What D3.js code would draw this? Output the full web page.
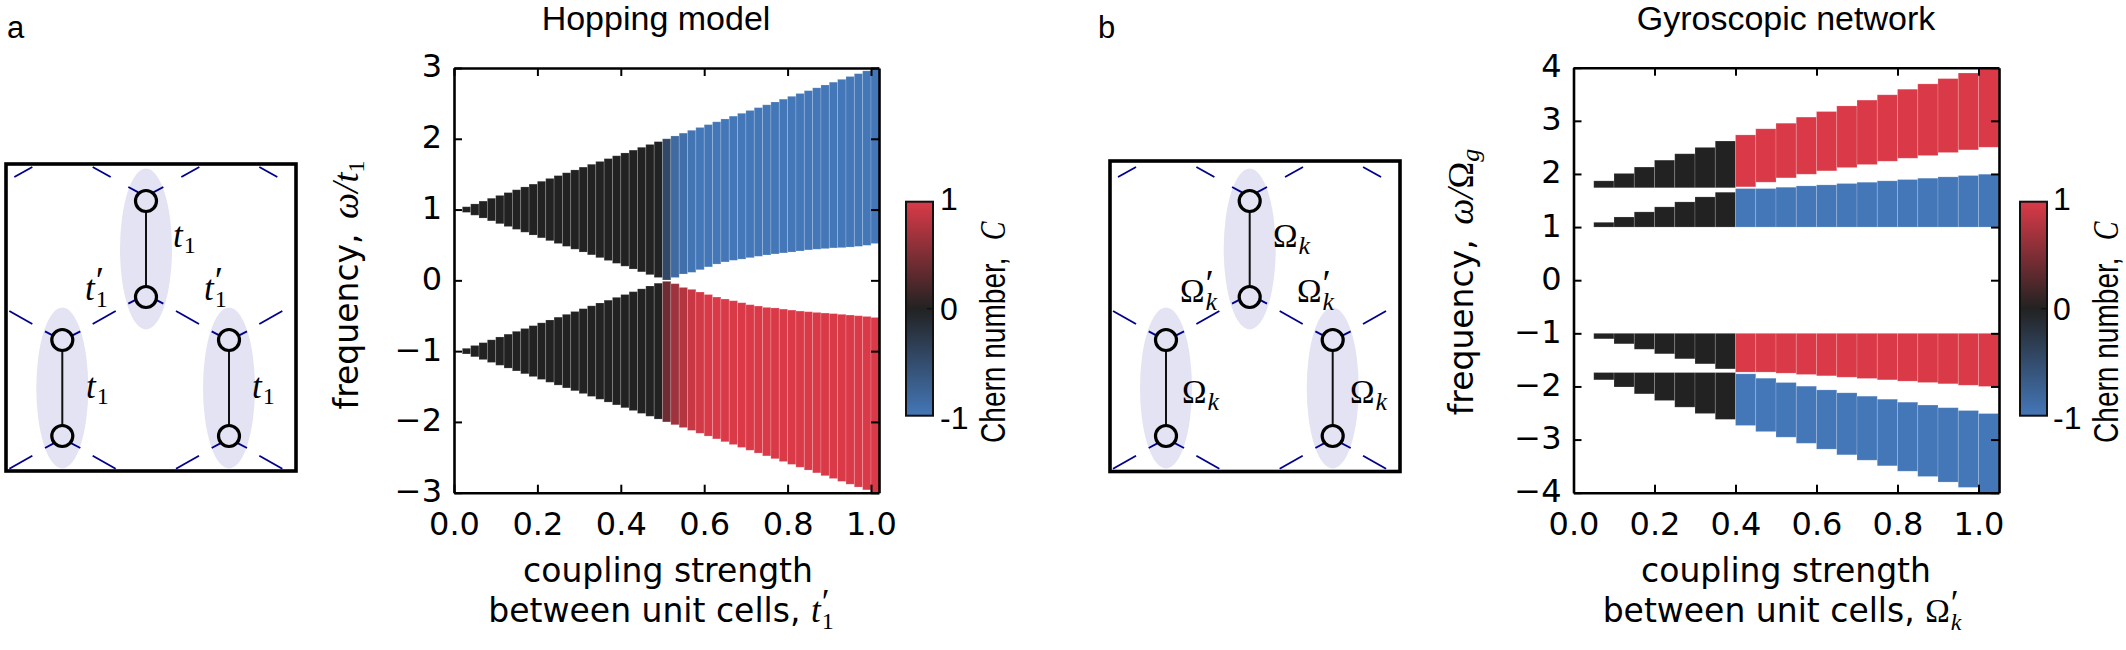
<!DOCTYPE html>
<html>
<head>
<meta charset="utf-8">
<script src="https://cdnjs.cloudflare.com/ajax/libs/d3/7.8.5/d3.min.js"></script>
<style>
html,body{margin:0;padding:0;background:#fff;}
svg{display:block;}
</style>
</head>
<body>
<svg id="chart" width="2126" height="650"></svg>
<script>
// ---------- Hopping model data ----------
const hopCoupling = [0.02,0.04,0.06,0.08,0.10,0.12,0.14,0.16,0.18,0.20,0.22,0.24,0.26,0.28,0.30,0.32,0.34,0.36,0.38,0.40,0.42,0.44,0.46,0.48,0.50,0.52,0.54,0.56,0.58,0.60,0.62,0.64,0.66,0.68,0.70,0.72,0.74,0.76,0.78,0.80,0.82,0.84,0.86,0.88,0.90,0.92,0.94,0.96,0.98,1.00];
const hopUpperTop = [1.04,1.08,1.12,1.16,1.20,1.24,1.28,1.32,1.36,1.40,1.44,1.48,1.52,1.56,1.60,1.64,1.68,1.72,1.76,1.80,1.84,1.88,1.92,1.96,2.00,2.04,2.08,2.12,2.16,2.20,2.24,2.28,2.32,2.36,2.40,2.44,2.48,2.52,2.56,2.60,2.64,2.68,2.72,2.76,2.80,2.84,2.88,2.92,2.96,3.00];
const hopUpperBottom = [0.96,0.92,0.88,0.84,0.80,0.76,0.72,0.68,0.64,0.60,0.56,0.52,0.48,0.44,0.40,0.36,0.32,0.28,0.24,0.20,0.16,0.12,0.08,0.04,0.005,0.04,0.09,0.113,0.15,0.19,0.23,0.26,0.283,0.30,0.32,0.34,0.358,0.373,0.387,0.40,0.415,0.43,0.44,0.448,0.458,0.462,0.47,0.48,0.495,0.52];
const hopLowerTop = [-0.96,-0.92,-0.88,-0.84,-0.80,-0.76,-0.72,-0.68,-0.64,-0.60,-0.56,-0.52,-0.48,-0.44,-0.40,-0.36,-0.32,-0.28,-0.24,-0.20,-0.16,-0.12,-0.08,-0.04,-0.014,-0.047,-0.10,-0.127,-0.165,-0.20,-0.236,-0.264,-0.288,-0.316,-0.344,-0.363,-0.382,-0.39,-0.406,-0.42,-0.434,-0.443,-0.453,-0.462,-0.47,-0.48,-0.49,-0.50,-0.51,-0.524];
const hopLowerBottom = [-1.04,-1.08,-1.12,-1.16,-1.20,-1.24,-1.28,-1.32,-1.36,-1.40,-1.44,-1.48,-1.52,-1.56,-1.60,-1.64,-1.68,-1.72,-1.76,-1.80,-1.84,-1.88,-1.92,-1.96,-2.00,-2.04,-2.08,-2.12,-2.16,-2.20,-2.24,-2.28,-2.32,-2.36,-2.40,-2.44,-2.48,-2.52,-2.56,-2.60,-2.64,-2.68,-2.72,-2.76,-2.80,-2.84,-2.88,-2.92,-2.96,-3.00];
const hopUpperChern = [0,0,0,0,0,0,0,0,0,0,0,0,0,0,0,0,0,0,0,0,0,0,0,0,-0.45,-0.85,-0.9,-0.97,-1,-1,-1,-1,-1,-1,-1,-1,-1,-1,-1,-1,-1,-1,-1,-1,-1,-1,-1,-1,-1,-1];
const hopLowerChern = [0,0,0,0,0,0,0,0,0,0,0,0,0,0,0,0,0,0,0,0,0,0,0,0,0.42,0.68,0.78,0.9,0.95,1,1,1,1,1,1,1,1,1,1,1,1,1,1,1,1,1,1,1,1,1];

// ---------- Gyroscopic network data ----------
const gyroCoupling = [0.05,0.10,0.15,0.20,0.25,0.30,0.35,0.40,0.45,0.50,0.55,0.60,0.65,0.70,0.75,0.80,0.85,0.90,0.95,1.00];
const gyroBand4Top = [1.87,2.01,2.13,2.26,2.38,2.50,2.62,2.735,2.85,2.955,3.07,3.175,3.28,3.39,3.49,3.595,3.695,3.795,3.90,4.00];
const gyroBand4Bottom = [1.74,1.74,1.74,1.74,1.74,1.74,1.74,1.757,1.845,1.926,1.995,2.058,2.12,2.177,2.24,2.296,2.346,2.403,2.453,2.503];
const gyroBand3Top = [1.09,1.19,1.286,1.38,1.474,1.568,1.656,1.725,1.725,1.75,1.775,1.794,1.82,1.844,1.87,1.895,1.92,1.945,1.97,1.995];
const gyroBand3Bottom = [1,1,1,1,1,1,1,1,1,1,1,1,1,1,1,1,1,1,1,1];
const gyroBand2Top = [-1,-1,-1,-1,-1,-1,-1,-1,-1,-1,-1,-1,-1,-1,-1,-1,-1,-1,-1,-1];
const gyroBand2Bottom = [-1.104,-1.198,-1.30,-1.386,-1.48,-1.575,-1.67,-1.73,-1.73,-1.75,-1.775,-1.80,-1.826,-1.85,-1.876,-1.90,-1.926,-1.95,-1.977,-2.00];
const gyroBand1Top = [-1.738,-1.738,-1.738,-1.738,-1.738,-1.738,-1.738,-1.763,-1.845,-1.926,-1.995,-2.065,-2.12,-2.183,-2.24,-2.296,-2.35,-2.40,-2.453,-2.51];
const gyroBand1Bottom = [-1.876,-2.01,-2.14,-2.265,-2.39,-2.51,-2.62,-2.735,-2.85,-2.955,-3.07,-3.18,-3.287,-3.388,-3.494,-3.595,-3.695,-3.80,-3.90,-4.00];
const gyroPositiveChern = [0,0,0,0,0,0,0,1,1,1,1,1,1,1,1,1,1,1,1,1];
const gyroNegativeChern = [0,0,0,0,0,0,0,-1,-1,-1,-1,-1,-1,-1,-1,-1,-1,-1,-1,-1];

// ---------- Tick labels ----------
const xTicks = [0,0.2,0.4,0.6,0.8,1.0];
const hopYTicks = [-3,-2,-1,0,1,2,3];
const gyroYTicks = [-4,-3,-2,-1,0,1,2,3,4];
const chernTicks = [-1,0,1];

// ---------- Diagram (lattice units) ----------
const cellCentres = [[146,249],[62.3,388],[229,388]];
const latticeLinks = [
 [43,141,97,111],[278,111,332,141],[544,141,598,111],[778,111,832,141],
 [385,171,415,187],[490,171,460,187],[385,521,415,505],[490,521,460,505],
 [28,543,97,582],[278,582,347,543],[528,543,597,582],[778,582,847,543],
 [135,604,165,620],[241,604,210,620],[135,954,165,938],[241,954,210,938],
 [635,604,665,620],[741,604,710,620],[635,954,665,938],[741,954,710,938],
 [28,1016,97,977],[278,977,347,1016],[528,1016,597,977],[778,977,847,1016]
];

const SANS = "'DejaVu Sans'";
const HELV = "'Liberation Sans'";
const SERIF = "'Liberation Serif'";
const svg = d3.select("#chart");
const chern = d3.scaleLinear().domain([-1,0,1]).range(["#4477b8","#222222","#da3a48"]);

// One text element with sequential runs; centred on the origin unless anchor is "start"
function runs(g, items, anchor){
  const t = g.append("text").attr("fill","#000").style("white-space","pre");
  let x = 0;
  items.forEach(it => {
    const s = t.append("tspan").attr("x", x + (it.dx||0)).attr("y", it.dy||0)
      .attr("font-family", it.font||SANS).attr("font-size", it.size||33)
      .attr("font-style", it.italic ? "italic" : "normal").text(it.text);
    const w = s.node().getComputedTextLength();
    if(!it.overlay) x += w + (it.dx||0);
  });
  if(anchor !== "start"){
    t.selectAll("tspan").attr("x", function(){ return +d3.select(this).attr("x") - x/2; });
  }
  return g;
}

function drawBars(g, x, y, xs, w, top, bottom, colors, xMax){
  g.selectAll(null).data(xs).enter().append("rect")
    .attr("x", d => x(d))
    .attr("width", d => x(Math.min(d + w, xMax)) - x(d))
    .attr("y", (d,i) => y(top[i]))
    .attr("height", (d,i) => y(bottom[i]) - y(top[i]))
    .attr("fill", (d,i) => chern(colors[i]))
    .attr("stroke", "#ffffff").attr("stroke-opacity", 0.22).attr("stroke-width", 0.8);
}

function frameAxes(g, x, y, yTicks, width, height){
  const style = a => {
    a.selectAll(".domain").attr("stroke","#000").attr("stroke-width",2.6);
    a.selectAll(".tick line").attr("stroke","#000").attr("stroke-width",2);
    a.selectAll("text").attr("font-family",SANS).attr("font-size",32).attr("fill","#000");
  };
  g.append("g").attr("transform",`translate(0,${height})`)
    .call(d3.axisBottom(x).tickValues(xTicks).tickFormat(d3.format(".1f")).tickSizeInner(-8).tickSizeOuter(0).tickPadding(20)).call(style);
  g.append("g")
    .call(d3.axisTop(x).tickValues(xTicks).tickFormat("").tickSizeInner(-8).tickSizeOuter(0)).call(style);
  g.append("g")
    .call(d3.axisLeft(y).tickValues(yTicks).tickFormat(d3.format("d")).tickSizeInner(-8).tickSizeOuter(0).tickPadding(12)).call(style)
    .selectAll("text").attr("dy","0.28em");
  g.append("g").attr("transform",`translate(${width},0)`)
    .call(d3.axisRight(y).tickValues(yTicks).tickFormat("").tickSizeInner(-8).tickSizeOuter(0)).call(style);
}

function colorbar(id, left, labelX, titleX){
  const top = 201.7, h = 214, w = 27;
  const grad = svg.append("defs").append("linearGradient").attr("id",id)
    .attr("x1",0).attr("x2",0).attr("y1",1).attr("y2",0);
  chernTicks.forEach(v => grad.append("stop").attr("offset",(v+1)/2).attr("stop-color",chern(v)));
  const sc = d3.scaleLinear().domain([-1,1]).range([top+h,top]);
  svg.append("rect").attr("x",left).attr("y",top).attr("width",w).attr("height",h)
    .attr("fill",`url(#${id})`).attr("stroke","#111").attr("stroke-width",2);
  svg.append("line").attr("x1",left+w-6).attr("x2",left+w).attr("y1",sc(0)).attr("y2",sc(0))
    .attr("stroke","#111").attr("stroke-width",1.5);
  svg.selectAll(null).data(chernTicks).enter().append("text")
    .attr("x",labelX).attr("y",d => sc(d)+ (d===1?8:d===0?11:13))
    .attr("font-family",HELV).attr("font-size",32).attr("fill","#000")
    .text(d => d===-1 ? "-1" : d);
  const t = svg.append("g").attr("transform",`translate(${titleX},443) rotate(-90) scale(0.78,1)`);
  runs(t,[{text:"Chern number,",font:HELV,size:36},{text:"C",font:SERIF,italic:true,size:36,dx:22}],"start");
}

function diagram(ox, frame){
  const g = svg.append("g");
  const dx = d3.scaleLinear().domain([0,960]).range([ox, ox+320]);
  const dy = d3.scaleLinear().domain([0,1080]).range([130,490]);
  const px = v => v + ox;
  g.selectAll(null).data(cellCentres).enter().append("ellipse")
    .attr("cx",d=>px(d[0])).attr("cy",d=>d[1]).attr("rx",26).attr("ry",80.5).attr("fill","#e3e3f3");
  g.selectAll(null).data(latticeLinks).enter().append("line")
    .attr("x1",d=>dx(d[0])).attr("y1",d=>dy(d[1])).attr("x2",d=>dx(d[2])).attr("y2",d=>dy(d[3]))
    .attr("stroke","#00008b").attr("stroke-width",1.8);
  const half = [[0,-48],[0,48]];
  cellCentres.forEach(c => {
    g.append("line").attr("x1",px(c[0])).attr("x2",px(c[0]))
      .attr("y1",c[1]-48).attr("y2",c[1]+48).attr("stroke","#111").attr("stroke-width",2);
    half.forEach(o => g.append("circle").attr("cx",px(c[0])).attr("cy",c[1]+o[1]).attr("r",10.5)
      .attr("fill","#e3e3f3").attr("stroke","#000").attr("stroke-width",3.2));
  });
  g.append("rect").attr("x",frame[0]).attr("y",frame[1]).attr("width",frame[2]-frame[0]).attr("height",frame[3]-frame[1])
    .attr("fill","none").attr("stroke","#000").attr("stroke-width",3.6);
}

function place(x,y){ return svg.append("g").attr("transform",`translate(${x},${y})`); }
const tLabel = (x,y) => runs(place(x,y),[{text:"t",font:SERIF,italic:true,size:35},{text:"1",font:SERIF,size:24,dy:6,dx:1}],"start");
const tpLabel = (x,y) => runs(place(x,y),[{text:"t",font:SERIF,italic:true,size:35},{text:"′",font:SERIF,size:38,dy:-7,dx:1,overlay:true},{text:"1",font:SERIF,size:24,dy:7,dx:1}],"start");
const oLabel = (x,y) => runs(place(x,y),[{text:"Ω",font:SERIF,size:33},{text:"k",font:SERIF,italic:true,size:26,dy:7,dx:1}],"start");
const opLabel = (x,y) => runs(place(x,y),[{text:"Ω",font:SERIF,size:33},{text:"′",font:SERIF,size:38,dy:-6,dx:1,overlay:true},{text:"k",font:SERIF,italic:true,size:26,dy:8,dx:1}],"start");

// ---------- Panel labels and titles ----------
svg.append("text").attr("x",7).attr("y",38).attr("font-family",HELV).attr("font-size",31).text("a");
svg.append("text").attr("x",1098).attr("y",38).attr("font-family",HELV).attr("font-size",31).text("b");
svg.append("text").attr("x",656).attr("y",30).attr("text-anchor","middle").attr("font-family",HELV).attr("font-size",34).text("Hopping model");
svg.append("text").attr("x",1786).attr("y",30).attr("text-anchor","middle").attr("font-family",HELV).attr("font-size",34).text("Gyroscopic network");

// ---------- Diagrams ----------
diagram(0,[6,164,296,471]);
diagram(1103.7,[1110,161,1400,471.5]);
tLabel(173,247); tpLabel(85,300); tpLabel(204,300); tLabel(86,398); tLabel(252,398);
oLabel(1273,247); opLabel(1180,302); opLabel(1297,302); oLabel(1182,403); oLabel(1350,403);

// ---------- Panel a ----------
{
  const W = 425, H = 424.7;
  const g = place(454,68);
  const x = d3.scaleLinear().domain([0,1.0192]).range([0,W]);
  const y = d3.scaleLinear().domain([-3,3]).range([H,0]);
  drawBars(g,x,y,hopCoupling,0.02,hopUpperTop,hopUpperBottom,hopUpperChern,1.0192);
  drawBars(g,x,y,hopCoupling,0.02,hopLowerTop,hopLowerBottom,hopLowerChern,1.0192);
  frameAxes(g,x,y,hopYTicks,W,H);
}
// ---------- Panel b ----------
{
  const W = 425.5, H = 425;
  const g = place(1573.5,67.7);
  const x = d3.scaleLinear().domain([0,1.0506]).range([0,W]);
  const y = d3.scaleLinear().domain([-4,4]).range([H,0]);
  drawBars(g,x,y,gyroCoupling,0.05,gyroBand4Top,gyroBand4Bottom,gyroPositiveChern,1.0506);
  drawBars(g,x,y,gyroCoupling,0.05,gyroBand3Top,gyroBand3Bottom,gyroNegativeChern,1.0506);
  drawBars(g,x,y,gyroCoupling,0.05,gyroBand2Top,gyroBand2Bottom,gyroPositiveChern,1.0506);
  drawBars(g,x,y,gyroCoupling,0.05,gyroBand1Top,gyroBand1Bottom,gyroNegativeChern,1.0506);
  frameAxes(g,x,y,gyroYTicks,W,H);
}

// ---------- Axis titles ----------
runs(place(668,582),[{text:"coupling strength"}]);
runs(place(661,622),[{text:"between unit cells, "},{text:"t",font:SERIF,italic:true,size:35},{text:"′",font:SERIF,size:36,dy:-8,dx:1,overlay:true},{text:"1",font:SERIF,size:24,dy:7,dx:1}]);
runs(place(1786,582),[{text:"coupling strength"}]);
runs(place(1782,622),[{text:"between unit cells, "},{text:"Ω",font:SERIF,size:33},{text:"′",font:SERIF,size:36,dy:-7,dx:1,overlay:true},{text:"k",font:SERIF,italic:true,size:24,dy:8,dx:1}]);
runs(svg.append("g").attr("transform","translate(358,285) rotate(-90)"),[{text:"frequency, "},{text:"ω/",font:SERIF,italic:true,size:37,dx:4},{text:"t",font:SERIF,italic:true,size:36},{text:"1",font:SERIF,size:24,dy:6}]);
runs(svg.append("g").attr("transform","translate(1473,282) rotate(-90)"),[{text:"frequency, "},{text:"ω/",font:SERIF,italic:true,size:37,dx:4},{text:"Ω",font:SERIF,size:36},{text:"g",font:SERIF,italic:true,size:26,dy:6}]);

// ---------- Colour bars ----------
colorbar("cbA",906,940,1005);
colorbar("cbB",2020,2053,2118);
</script>
</body>
</html>
